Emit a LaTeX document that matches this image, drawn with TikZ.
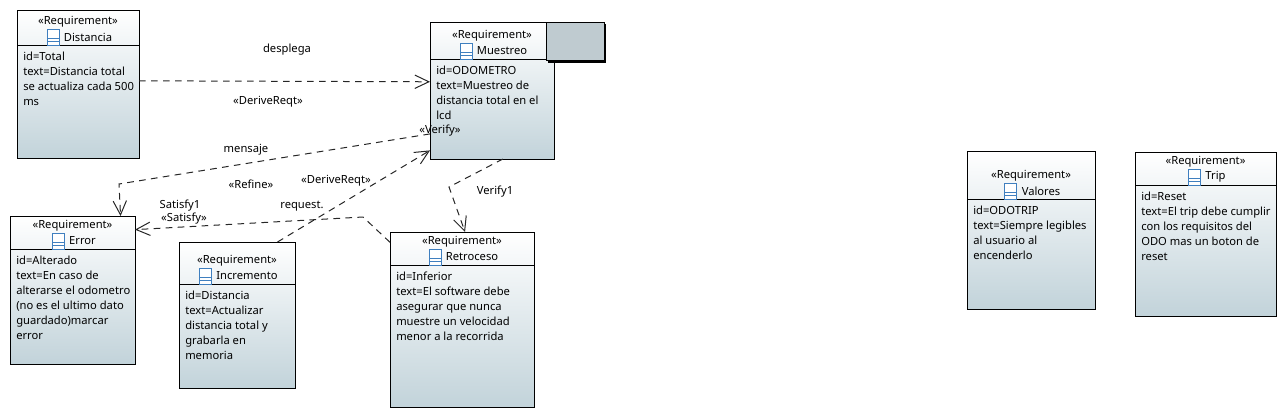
\documentclass[tikz,border=0pt]{standalone}
\usepackage{fontspec}
\setmainfont{Noto Sans}
\usepackage{tikz}
\usetikzlibrary{positioning,calc,arrows.meta,shadows}

\definecolor{reqgray}{HTML}{C2D3DA}
\definecolor{reqtab}{HTML}{BFCBD0}
\definecolor{reqblue}{HTML}{3F7FBF}

\tikzset{
    reqbox/.style={draw=black,line width=0.75pt,top color=white,bottom color=reqgray,inner sep=0pt,outer sep=0pt},
    reqtext/.style={font=\fontsize{8.4}{11.25}\selectfont,inner sep=0pt,text=black},
    reqicon/.style={draw=reqblue,line width=0.75pt,fill=white,inner sep=0pt,minimum width=9pt,minimum height=12pt,
        path picture={
            \draw[reqblue,line width=0.6pt] ($(path picture bounding box.west)+(0,-1pt)$) -- ++(9pt,0);
            \draw[reqblue,line width=0.6pt] ($(path picture bounding box.west)+(0,-3.5pt)$) -- ++(9pt,0);
        }},
    dep/.style={line width=0.75pt,dash pattern=on 5pt off 4pt,color=black!85},
    depto/.style={dep,-{Straight Barb[length=10.5pt,width=10pt,line width=0.75pt]}},
    lbl/.style={reqtext}
}

% name, x, y, w, h, divider y, title, body
\newcommand{\reqnode}[8]{
    \node[reqbox,minimum width={#4*0.75pt},minimum height={#5*0.75pt}] (#1) at ({#2+#4/2},{#3+#5/2}) {};
    \draw[line width=0.75pt] (#2,#6) -- ({#2+#4+1},#6);
    \node[reqtext] (#1-st) at ({#2+#4/2},{#6-23}) {«Requirement»};
    \node[reqtext] (#1-name) at ({#2+#4/2+10},{#6-8}) {#7};
    \node[reqicon,left=3pt of #1-name] (#1-icon) {};
    \node[reqtext,align=left,anchor=north west] (#1-body) at ({#2+6},{#6+7}) {#8};
}

\begin{document}
\begin{tikzpicture}[x=0.75pt,y=-0.75pt]
    \useasboundingbox (0,0) rectangle (1287,418);

    \reqnode{distancia}{17}{10}{122}{148}{45}{Distancia}{id=Total\\text=Distancia total\\se actualiza cada 500\\ms}
    \reqnode{muestreo}{430}{22}{124}{137}{59}{Muestreo}{id=ODOMETRO\\text=Muestreo de\\distancia total en el\\lcd}
    \reqnode{error}{10}{216}{125}{148}{249}{Error}{id=Alterado\\text=En caso de\\alterarse el odometro\\(no es el ultimo dato\\guardado)marcar\\error}
    \reqnode{incremento}{179}{242}{116}{146}{284}{Incremento}{id=Distancia\\text=Actualizar\\distancia total y\\grabarla en\\memoria}
    \reqnode{retroceso}{390}{232}{144}{175}{265}{Retroceso}{id=Inferior\\text=El software debe\\asegurar que nunca\\muestre un velocidad\\menor a la recorrida}
    \reqnode{valores}{967}{151}{128}{158}{199}{Valores}{id=ODOTRIP\\text=Siempre legibles\\al usuario al\\encenderlo}
    \reqnode{trip}{1135}{152}{141}{164}{185}{Trip}{id=Reset\\text=El trip debe cumplir\\con los requisitos del\\ODO mas un boton de\\reset}

    \node[draw=black,line width=0.75pt,fill=reqtab,minimum width=43.5pt,minimum height=29pt,inner sep=0pt,
        drop shadow={shadow xshift=1.5pt,shadow yshift=-1.5pt,fill=black,opacity=1}] (muestreotab) at (575,41.5) {};

    \coordinate (mensajebend) at (119,184);
    \coordinate (requestbend) at (363,217);
    \coordinate (verifybend) at (449,187);

    \draw[depto] (distancia.3.75) -- (muestreo.172.2);
    \draw[depto] (muestreo.215) -- (mensajebend) -- (error.57.9);
    \draw[depto] (incremento.61.3) -- (muestreo.224.8);
    \draw[depto] (retroceso.133.3) -- (requestbend) -- (error.44.3);
    \draw[depto] (muestreo.279.1) -- (verifybend) -- (retroceso.88);

    \node[lbl] (desplega) at (287,50) {desplega};
    \node[lbl] (derive1) at (268,102) {«DeriveReqt»};
    \node[lbl] (mensaje) at (246,150) {mensaje};
    \node[lbl] (refine) at (251,184) {«Refine»};
    \node[lbl] (derive2) at (336,181) {«DeriveReqt»};
    \node[lbl] (satisfy1) at (180,206) {Satisfy1};
    \node[lbl] (satisfy2) at (184,219) {«Satisfy»};
    \node[lbl] (request) at (302,206) {request.};
    \node[lbl] (verify2) at (440,131) {«Verify»};
    \node[lbl] (verify1) at (495,192) {Verify1};
\end{tikzpicture}
\end{document}
